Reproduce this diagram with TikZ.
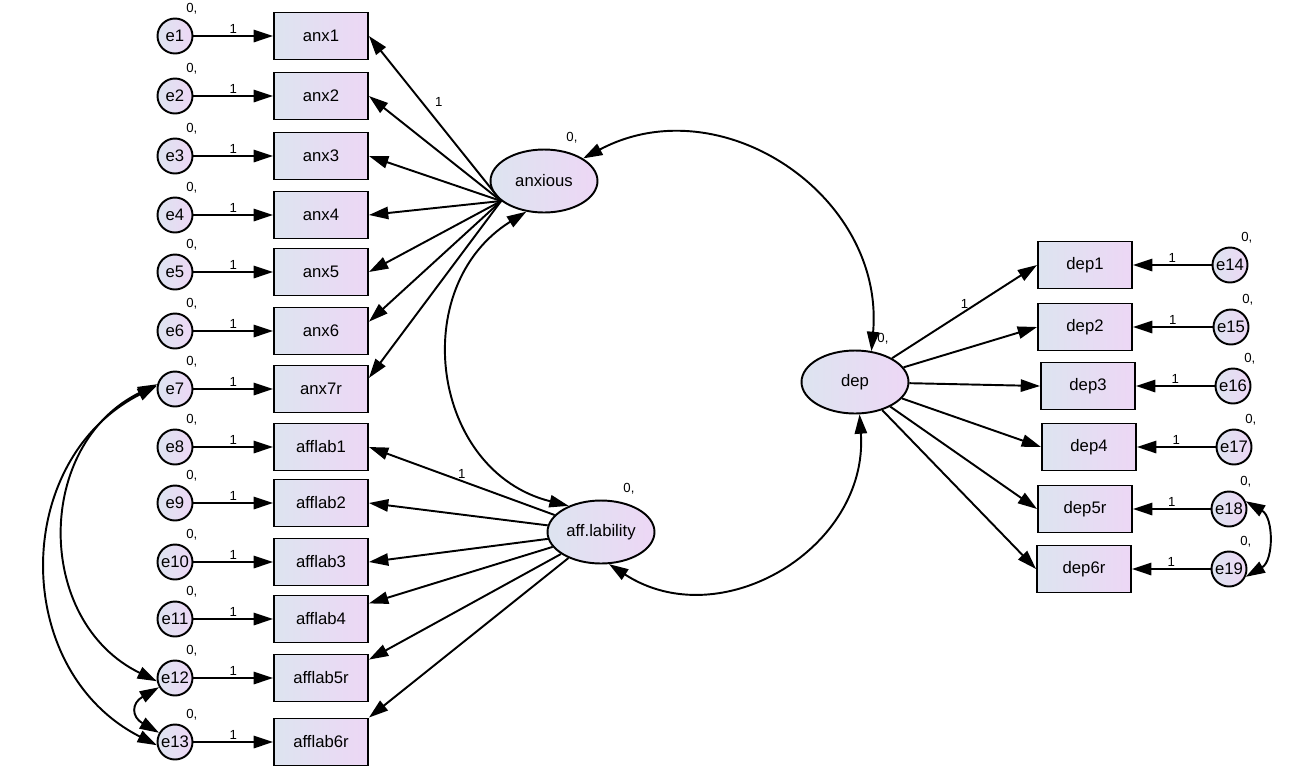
\documentclass[tikz,border=0pt]{standalone}
\usepackage{fontspec}
\setmainfont{Liberation Sans}
\usetikzlibrary{arrows.meta, shapes.geometric}
\definecolor{amosleft}{RGB}{221,228,240}
\definecolor{amosright}{RGB}{237,215,245}

\begin{document}
\begin{tikzpicture}[% styles used in image code
         x = 0.02cm, y = 0.02cm, % one unit = one pixel of the layout
         > = {Triangle[length=11pt,width=7pt]}, % defined in "arrows.meta"
 lbl/.style = {font=\fontsize{7.5}{8}\selectfont, inner sep=1pt},
amosfill/.style = {draw, line width=1.1pt, left color=amosleft, right color=amosright,
              inner sep=0pt, font=\fontsize{9.5}{11}\selectfont},
 obs/.style = {amosfill, rectangle, minimum width=1.88cm, minimum height=0.94cm},
 lat/.style = {amosfill, ellipse, minimum width=2.14cm, minimum height=1.26cm,
              label={[lbl,label distance=3pt]60:{0,}}},
 err/.style = {amosfill, circle, minimum size=0.7cm,
              label={[lbl,label distance=2pt]65:{0,}}},
 reg/.style = {->, line width=1.1pt},
 cov/.style = {<->, line width=1.1pt}
                        ]
	\useasboundingbox (0,0) rectangle (1289,-779);

	% latent variables
	\node[lat] (anxious) at (544,-181) {anxious};
	\node[lat] (aff)     at (601,-532) {aff.lability};
	\node[lat] (dep)     at (855,-382) {dep};

	% indicators and errors, left side
	\node[err] (e1)  at (175,-36)  {e1};  \node[obs] (anx1)     at (321,-36)  {anx1};
	\node[err] (e2)  at (175,-96)  {e2};  \node[obs] (anx2)     at (321,-96)  {anx2};
	\node[err] (e3)  at (175,-156) {e3};  \node[obs] (anx3)     at (321,-156) {anx3};
	\node[err] (e4)  at (175,-215) {e4};  \node[obs] (anx4)     at (321,-215) {anx4};
	\node[err] (e5)  at (175,-272) {e5};  \node[obs] (anx5)     at (321,-272) {anx5};
	\node[err] (e6)  at (175,-331) {e6};  \node[obs] (anx6)     at (321,-331) {anx6};
	\node[err] (e7)  at (175,-389) {e7};  \node[obs] (anx7r)    at (321,-389) {anx7r};
	\node[err] (e8)  at (175,-447) {e8};  \node[obs] (afflab1)  at (321,-447) {afflab1};
	\node[err] (e9)  at (175,-503) {e9};  \node[obs] (afflab2)  at (321,-503) {afflab2};
	\node[err] (e10) at (175,-562) {e10}; \node[obs] (afflab3)  at (321,-562) {afflab3};
	\node[err] (e11) at (175,-619) {e11}; \node[obs] (afflab4)  at (321,-619) {afflab4};
	\node[err] (e12) at (175,-678) {e12}; \node[obs] (afflab5r) at (321,-678) {afflab5r};
	\node[err] (e13) at (175,-742) {e13}; \node[obs] (afflab6r) at (321,-742) {afflab6r};

	% indicators and errors, right side
	\node[obs] (dep1)  at (1085,-265) {dep1};  \node[err] (e14) at (1230,-265) {e14};
	\node[obs] (dep2)  at (1085,-327) {dep2};  \node[err] (e15) at (1231,-327) {e15};
	\node[obs] (dep3)  at (1088,-386) {dep3};  \node[err] (e16) at (1233,-386) {e16};
	\node[obs] (dep4)  at (1089,-447) {dep4};  \node[err] (e17) at (1234,-447) {e17};
	\node[obs] (dep5r) at (1085,-509) {dep5r}; \node[err] (e18) at (1229,-509) {e18};
	\node[obs] (dep6r) at (1084,-569) {dep6r}; \node[err] (e19) at (1229,-569) {e19};

	% error paths
	\draw[reg] (e1)  -- (anx1)     node[lbl,midway,above] {1};
	\draw[reg] (e2)  -- (anx2)     node[lbl,midway,above] {1};
	\draw[reg] (e3)  -- (anx3)     node[lbl,midway,above] {1};
	\draw[reg] (e4)  -- (anx4)     node[lbl,midway,above] {1};
	\draw[reg] (e5)  -- (anx5)     node[lbl,midway,above] {1};
	\draw[reg] (e6)  -- (anx6)     node[lbl,midway,above] {1};
	\draw[reg] (e7)  -- (anx7r)    node[lbl,midway,above] {1};
	\draw[reg] (e8)  -- (afflab1)  node[lbl,midway,above] {1};
	\draw[reg] (e9)  -- (afflab2)  node[lbl,midway,above] {1};
	\draw[reg] (e10) -- (afflab3)  node[lbl,midway,above] {1};
	\draw[reg] (e11) -- (afflab4)  node[lbl,midway,above] {1};
	\draw[reg] (e12) -- (afflab5r) node[lbl,midway,above] {1};
	\draw[reg] (e13) -- (afflab6r) node[lbl,midway,above] {1};
	\draw[reg] (e14) -- (dep1)     node[lbl,midway,above] {1};
	\draw[reg] (e15) -- (dep2)     node[lbl,midway,above] {1};
	\draw[reg] (e16) -- (dep3)     node[lbl,midway,above] {1};
	\draw[reg] (e17) -- (dep4)     node[lbl,midway,above] {1};
	\draw[reg] (e18) -- (dep5r)    node[lbl,midway,above] {1};
	\draw[reg] (e19) -- (dep6r)    node[lbl,midway,above] {1};

	% loadings
	\draw[reg] (anxious.205) -- (anx1.east) node[lbl,pos=0.6,right=6pt] {1};
	\draw[reg] (anxious.205) -- (anx2.east);
	\draw[reg] (anxious.205) -- (anx3.east);
	\draw[reg] (anxious.205) -- (anx4.east);
	\draw[reg] (anxious.205) -- (anx5.east);
	\draw[reg] (anxious.205) -- (anx6.11);
	\draw[reg] (anxious.205) -- (anx7r.13);
	\draw[reg] (aff) -- (afflab1.east) node[lbl,midway,above] {1};
	\draw[reg] (aff) -- (afflab2.east);
	\draw[reg] (aff) -- (afflab3.east);
	\draw[reg] (aff) -- (afflab4.18);
	\draw[reg] (aff) -- (afflab5r.21);
	\draw[reg] (aff) -- (afflab6r.north east);
	\draw[reg] (dep) -- (dep1.west) node[lbl,midway,above] {1};
	\draw[reg] (dep) -- (dep2.west);
	\draw[reg] (dep) -- (dep3.west);
	\draw[reg] (dep) -- (dep4.west);
	\draw[reg] (dep) -- (dep5r.west);
	\draw[reg] (dep) -- (dep6r.west);

	% covariances
	\draw[cov] (anxious.30)  to[out=28,in=85,looseness=1.15]   (dep.62);
	\draw[cov] (anxious.240) to[out=212,in=166,looseness=1.22] (aff.141);
	\draw[cov] (aff.284)     to[out=327,in=274,looseness=1.17] (dep.278);
	\draw[cov] (e7.165)  to[out=206,in=154,looseness=1.18] (e12.190);
	\draw[cov] (e7.170)  to[out=207,in=153,looseness=1.17] (e13.190);
	\draw[cov] (e12.210) to[out=210,in=150,looseness=1.8]  (e13.150);
	\draw[cov] (e18.25)  to[out=-30,in=30,looseness=1.1]   (e19.335);
\end{tikzpicture}
\end{document}
